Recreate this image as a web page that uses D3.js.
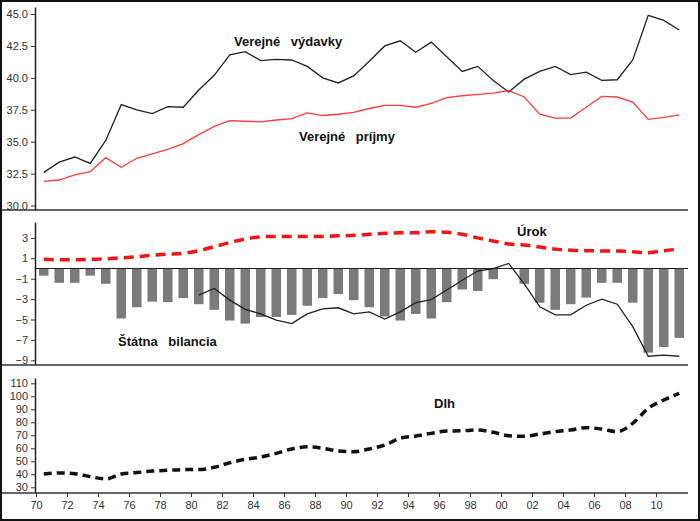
<!DOCTYPE html>
<html>
<head>
<meta charset="utf-8">
<script src="https://cdn.jsdelivr.net/npm/d3@7/dist/d3.min.js"></script>
<style>
  html, body { margin: 0; padding: 0; background: #fff; }
  svg { display: block; font-family: "Liberation Sans", Arial, sans-serif; }
  .tick text { fill: #333; font-size: 11px; }
  .lbl { font-weight: bold; font-size: 13px; fill: #111; word-spacing: 7px; }
</style>
</head>
<body>
<svg id="c" width="700" height="521"></svg>
<script>
// ---- data ----
const years = d3.range(1970, 2012); // 1970 .. 2011
const vydavky = [32.6,33.4,33.8,33.3,35.1,37.9,37.5,37.2,37.75,37.7,
                 39.05,40.2,41.8,42.05,41.35,41.45,41.4,40.9,40.0,39.6,
                 40.15,41.3,42.5,42.9,42.0,42.8,41.65,40.5,40.9,39.8,
                 38.9,39.9,40.5,40.9,40.25,40.45,39.8,39.85,41.4,44.9,44.5,43.75];
const prijmy = [31.9,32.0,32.4,32.65,33.75,33.0,33.7,34.05,34.4,34.85,
                35.55,36.2,36.65,36.6,36.55,36.7,36.8,37.25,37.05,37.15,
                37.3,37.6,37.85,37.85,37.7,38.0,38.45,38.6,38.7,38.8,
                39.0,38.5,37.15,36.85,36.85,37.7,38.55,38.5,38.1,36.75,36.9,37.1];
const bilancia = [-0.7,-1.4,-1.4,-0.7,-1.5,-4.9,-3.8,-3.25,-3.3,-2.9,
                  -3.5,-4.05,-5.1,-5.4,-4.75,-4.75,-4.55,-3.65,-2.9,-2.5,
                  -3.1,-3.8,-4.7,-5.1,-4.45,-4.9,-3.3,-2.05,-2.2,-1.05,
                  0,-1.5,-3.35,-4.05,-3.5,-2.85,-1.4,-1.4,-3.35,-8.25,-7.7,-6.8];
const bilancia2 = [null,null,null,null,null,null,null,null,null,null,
                   -2.6,-1.95,-3.1,-4.0,-4.45,-5.05,-5.4,-4.45,-3.95,-3.85,
                   -4.45,-4.25,-4.95,-4.25,-3.35,-3.05,-2.1,-1.15,-0.25,0.0,
                   0.5,-1.5,-3.75,-4.55,-4.55,-3.6,-3.0,-3.5,-5.7,-8.6,-8.5,-8.6];
const urok = [0.9,0.85,0.85,0.9,0.95,1.05,1.15,1.3,1.4,1.5,
              1.75,2.15,2.55,2.9,3.1,3.15,3.15,3.15,3.15,3.2,
              3.25,3.35,3.45,3.5,3.5,3.6,3.55,3.35,3.0,2.7,
              2.4,2.3,2.1,1.9,1.8,1.75,1.72,1.72,1.65,1.55,1.75,1.9];
const dlh = [40.2,41,40.5,38.2,36.4,40.2,41.3,42.5,43.1,43.6,
             43.6,45.4,48.9,51.5,53.3,56.1,59.5,61.2,60,57.9,
             57.4,59.5,62.5,67.7,69.5,71.5,73.3,73.5,74.1,72.3,
             69.7,69.2,71,72.8,74.1,75.9,74.8,72.8,79.2,90.8,97.2,102.3];
const topTicks = [30, 32.5, 35, 37.5, 40, 42.5, 45];
const midTicks = [3, 1, -1, -3, -5, -7, -9];
const botTicks = [30, 40, 50, 60, 70, 80, 90, 100, 110];
const xTicks = d3.range(1970, 2012, 2);

// ---- layout ----
const svg = d3.select("#c");
const x = d3.scaleLinear().domain([1970, 2012]).range([36, 687]);
const xc = i => x(years[i] + 0.5);

const yTop = d3.scaleLinear().domain([29.65, 45.55]).range([210, 7]);
const yMid = d3.scaleLinear().domain([-9.46, 4.56]).range([365, 222]);
const yBot = d3.scaleLinear().domain([25.6, 114.1]).range([493, 378]);

function yAxis(scale, ticks, fmt) {
  const g = svg.append("g").attr("transform", "translate(35,0)")
    .call(d3.axisLeft(scale).tickValues(ticks).tickFormat(fmt).tickSize(4).tickSizeOuter(0).tickPadding(3));
  g.select(".domain").attr("stroke", "#222").attr("stroke-width", 1.5);
  g.selectAll(".tick line").attr("stroke", "#333");
  return g;
}
function xLine(yPos, withTicks) {
  const ax = d3.axisBottom(x).tickSizeOuter(0);
  if (withTicks) ax.tickValues(xTicks).tickFormat(d => String(d % 100).padStart(2, "0")).tickSize(4).tickPadding(4);
  else ax.tickValues([]);
  const g = svg.append("g").attr("transform", `translate(0,${yPos})`).call(ax);
  g.select(".domain").attr("stroke", "#333").attr("stroke-width", 1.5).attr("d", `M-1,0H688`);
  g.selectAll(".tick line").attr("stroke", "#333");
  return g;
}

// top panel
yAxis(yTop, topTicks, d3.format(".1f"));
xLine(210, false);
const lineTop = d3.line().x((d, i) => xc(i)).y(d => yTop(d));
svg.append("path").datum(vydavky).attr("d", lineTop)
  .attr("fill", "none").attr("stroke", "#222").attr("stroke-width", 1.3);
svg.append("path").datum(prijmy).attr("d", lineTop)
  .attr("fill", "none").attr("stroke", "#ff3b3b").attr("stroke-width", 1.3);
svg.append("text").attr("class", "lbl").attr("x", 234).attr("y", 46).text("Verejné výdavky");
svg.append("text").attr("class", "lbl").attr("x", 299).attr("y", 141).text("Verejné príjmy");

// middle panel
yAxis(yMid, midTicks, d3.format("d"));
xLine(365, false);
svg.append("g").selectAll("rect").data(bilancia).join("rect")
  .attr("x", (d, i) => xc(i) - 4.75)
  .attr("width", 9.5)
  .attr("y", d => Math.min(yMid(0), yMid(d)))
  .attr("height", d => Math.abs(yMid(d) - yMid(0)))
  .attr("fill", "#7a7a7a");
svg.append("line").attr("x1", 35).attr("x2", 688).attr("y1", yMid(0)).attr("y2", yMid(0))
  .attr("stroke", "#222").attr("stroke-width", 1.2);
svg.append("path").datum(bilancia2)
  .attr("d", d3.line().defined(d => d !== null).x((d, i) => xc(i)).y(d => yMid(d)))
  .attr("fill", "none").attr("stroke", "#222").attr("stroke-width", 1.3);
svg.append("path").datum(urok)
  .attr("d", d3.line().curve(d3.curveMonotoneX).x((d, i) => xc(i)).y(d => yMid(d)))
  .attr("fill", "none").attr("stroke", "#f41414").attr("stroke-width", 3.5)
  .attr("stroke-dasharray", "10,6");
svg.append("text").attr("class", "lbl").attr("x", 118).attr("y", 346).text("Štátna bilancia");
svg.append("text").attr("class", "lbl").attr("x", 517).attr("y", 236).text("Úrok");

// bottom panel
yAxis(yBot, botTicks, d3.format("d"));
xLine(493, true);
svg.append("path").datum(dlh)
  .attr("d", d3.line().curve(d3.curveMonotoneX).x((d, i) => xc(i)).y(d => yBot(d)))
  .attr("fill", "none").attr("stroke", "#111").attr("stroke-width", 3.5)
  .attr("stroke-dasharray", "8,5");
svg.append("text").attr("class", "lbl").attr("x", 434).attr("y", 408).text("Dlh");

// frame
svg.append("rect").attr("x", 1).attr("y", 1).attr("width", 698).attr("height", 519)
  .attr("fill", "none").attr("stroke", "#111").attr("stroke-width", 2);
</script>
</body>
</html>
